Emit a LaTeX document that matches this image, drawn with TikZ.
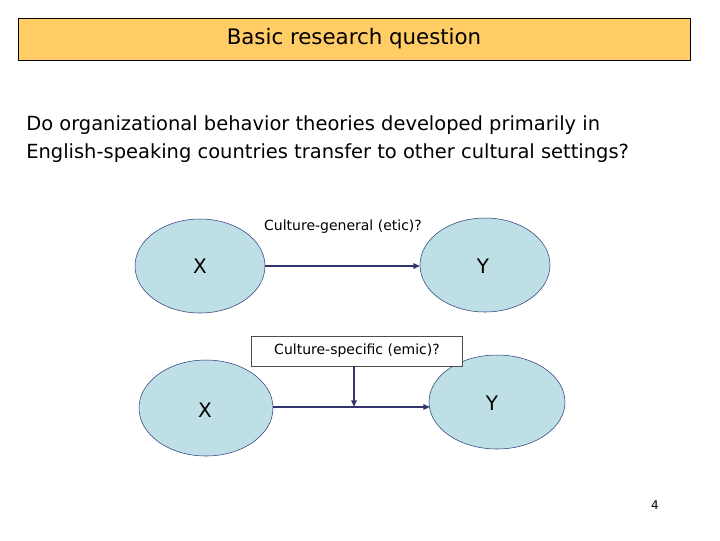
\documentclass[tikz,border=0pt]{standalone}
\usepackage{fontspec}
\setmainfont{DejaVu Sans}
\usetikzlibrary{arrows.meta}
\definecolor{titlefill}{HTML}{FFCC66}
\definecolor{ellfill}{HTML}{BDDFE5}
\definecolor{ellline}{HTML}{2E3F7A}
\definecolor{arr}{HTML}{33336E}
\begin{document}
\begin{tikzpicture}[x=0.75pt,y=-0.75pt,
  ell/.style={draw=ellline,fill=ellfill},
  conn/.style={draw=arr,line width=1.2pt,-{Triangle[length=5pt,width=4pt]}},
  lbl/.style={font=\fontsize{10.5pt}{12pt}\selectfont,inner sep=2pt}]
\useasboundingbox (0,0) rectangle (720,540);
\fill[white] (0,0) rectangle (720,540);
\node[draw,fill=titlefill,minimum width=672*0.75pt,minimum height=42*0.75pt,inner sep=0,font=\fontsize{16pt}{18pt}\selectfont] (title) at (354,39) {Basic research question};
\node[anchor=north west,align=left,inner sep=0,font=\fontsize{14.6pt}{21pt}\selectfont] (q) at (26,115) {Do organizational behavior theories developed primarily in\\English-speaking countries transfer to other cultural settings?};
\draw[ell] (200,266) ellipse [x radius=65, y radius=47];
\node (x1) at (200,266) {\fontsize{15pt}{18pt}\selectfont X};
\coordinate (x1e) at (265,266);
\draw[ell] (485,265) ellipse [x radius=65, y radius=47];
\node (y1) at (483,266) {\fontsize{15pt}{18pt}\selectfont Y};
\coordinate (y1w) at (420,266);
\node[lbl] (etic) at (343,227) {Culture-general (etic)?};
\draw[conn] (x1e) -- (y1w);
\draw[ell] (206,408) ellipse [x radius=67, y radius=48];
\node (x2) at (205,410) {\fontsize{15pt}{18pt}\selectfont X};
\coordinate (x2e) at (273,407);
\draw[ell] (497,402) ellipse [x radius=68, y radius=47];
\node (y2) at (492,403) {\fontsize{15pt}{18pt}\selectfont Y};
\coordinate (y2w) at (430,407);
\node[lbl,draw=black!70,fill=white,minimum width=211*0.75pt,minimum height=30*0.75pt] (emic) at (357,351) {Culture-specific (emic)?};
\coordinate (mid) at (354,407);
\draw[conn] (emic.south -| mid) -- (mid);
\draw[conn] (x2e) -- (y2w);
\node[font=\fontsize{9pt}{10pt}\selectfont] (pg) at (655,505) {4};
\end{tikzpicture}
\end{document}
